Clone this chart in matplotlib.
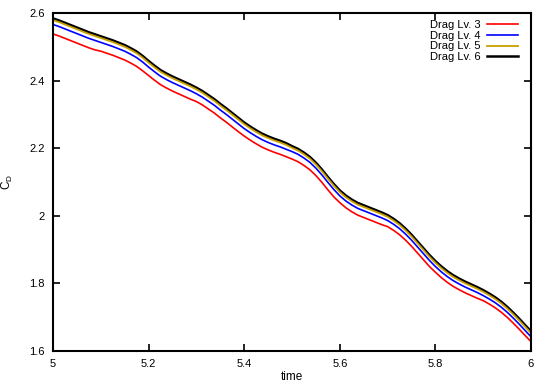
import matplotlib
matplotlib.use("Agg")
import matplotlib.pyplot as plt

# sample times (every 0.0125) and drag values
time = [5.0000, 5.0125, 5.0250, 5.0375, 5.0500, 5.0625, 5.0750, 5.0875,
        5.1000, 5.1125, 5.1250, 5.1375, 5.1500, 5.1625, 5.1750, 5.1875,
        5.2000, 5.2125, 5.2250, 5.2375, 5.2500, 5.2625, 5.2750, 5.2875,
        5.3000, 5.3125, 5.3250, 5.3375, 5.3500, 5.3625, 5.3750, 5.3875,
        5.4000, 5.4125, 5.4250, 5.4375, 5.4500, 5.4625, 5.4750, 5.4875,
        5.5000, 5.5125, 5.5250, 5.5375, 5.5500, 5.5625, 5.5750, 5.5875,
        5.6000, 5.6125, 5.6250, 5.6375, 5.6500, 5.6625, 5.6750, 5.6875,
        5.7000, 5.7125, 5.7250, 5.7375, 5.7500, 5.7625, 5.7750, 5.7875,
        5.8000, 5.8125, 5.8250, 5.8375, 5.8500, 5.8625, 5.8750, 5.8875,
        5.9000, 5.9125, 5.9250, 5.9375, 5.9500, 5.9625, 5.9750, 5.9875,
        6.0000]

drag_lv3 = [2.538, 2.532, 2.525, 2.518, 2.511, 2.504, 2.497, 2.491,
            2.487, 2.481, 2.475, 2.468, 2.461, 2.452, 2.442, 2.429,
            2.415, 2.401, 2.388, 2.378, 2.369, 2.361, 2.353, 2.345,
            2.338, 2.328, 2.316, 2.304, 2.290, 2.277, 2.263, 2.249,
            2.236, 2.224, 2.213, 2.203, 2.195, 2.188, 2.182, 2.175,
            2.168, 2.160, 2.149, 2.136, 2.119, 2.099, 2.077, 2.056,
            2.039, 2.024, 2.012, 2.002, 1.995, 1.988, 1.981, 1.974,
            1.968, 1.957, 1.944, 1.928, 1.910, 1.890, 1.870, 1.850,
            1.833, 1.817, 1.803, 1.791, 1.781, 1.772, 1.764, 1.756,
            1.749, 1.739, 1.728, 1.715, 1.700, 1.683, 1.665, 1.646,
            1.628]

drag_lv4 = [2.566, 2.560, 2.553, 2.546, 2.539, 2.532, 2.525, 2.519,
            2.513, 2.507, 2.501, 2.494, 2.487, 2.478, 2.468, 2.455,
            2.440, 2.426, 2.413, 2.403, 2.394, 2.386, 2.378, 2.370,
            2.361, 2.351, 2.339, 2.327, 2.313, 2.300, 2.286, 2.272,
            2.258, 2.246, 2.235, 2.225, 2.217, 2.210, 2.204, 2.197,
            2.190, 2.182, 2.171, 2.158, 2.141, 2.121, 2.099, 2.078,
            2.059, 2.044, 2.032, 2.022, 2.015, 2.008, 2.001, 1.994,
            1.986, 1.975, 1.962, 1.946, 1.928, 1.908, 1.888, 1.868,
            1.850, 1.834, 1.820, 1.808, 1.798, 1.789, 1.781, 1.773,
            1.764, 1.754, 1.743, 1.730, 1.715, 1.698, 1.680, 1.661,
            1.642]

drag_lv5 = [2.579, 2.573, 2.566, 2.559, 2.552, 2.545, 2.538, 2.532,
            2.526, 2.520, 2.514, 2.507, 2.500, 2.491, 2.481, 2.468,
            2.453, 2.439, 2.426, 2.416, 2.407, 2.399, 2.391, 2.383,
            2.374, 2.364, 2.352, 2.340, 2.326, 2.313, 2.299, 2.285,
            2.271, 2.259, 2.248, 2.238, 2.230, 2.223, 2.217, 2.210,
            2.201, 2.193, 2.182, 2.169, 2.152, 2.132, 2.110, 2.089,
            2.070, 2.055, 2.043, 2.033, 2.026, 2.019, 2.012, 2.005,
            1.997, 1.986, 1.973, 1.957, 1.939, 1.919, 1.899, 1.879,
            1.861, 1.845, 1.831, 1.819, 1.809, 1.800, 1.792, 1.784,
            1.775, 1.765, 1.754, 1.741, 1.726, 1.709, 1.691, 1.672,
            1.653]

drag_lv6 = [2.584, 2.578, 2.571, 2.564, 2.557, 2.550, 2.543, 2.537,
            2.531, 2.525, 2.519, 2.512, 2.505, 2.496, 2.486, 2.473,
            2.458, 2.444, 2.431, 2.421, 2.412, 2.404, 2.396, 2.388,
            2.379, 2.369, 2.357, 2.345, 2.331, 2.318, 2.304, 2.290,
            2.276, 2.264, 2.253, 2.243, 2.235, 2.228, 2.222, 2.215,
            2.206, 2.198, 2.187, 2.174, 2.157, 2.137, 2.115, 2.094,
            2.075, 2.060, 2.048, 2.038, 2.031, 2.024, 2.017, 2.010,
            2.002, 1.991, 1.978, 1.962, 1.944, 1.924, 1.904, 1.884,
            1.866, 1.850, 1.836, 1.824, 1.814, 1.805, 1.797, 1.789,
            1.780, 1.770, 1.759, 1.746, 1.731, 1.714, 1.696, 1.677,
            1.658]

x_ticks = [5, 5.2, 5.4, 5.6, 5.8, 6]
x_tick_labels = ["5", "5.2", "5.4", "5.6", "5.8", "6"]
y_ticks = [1.6, 1.8, 2.0, 2.2, 2.4, 2.6]
y_tick_labels = ["1.6", "1.8", "2", "2.2", "2.4", "2.6"]

plt.rcParams['font.family'] = ['Liberation Sans', 'DejaVu Sans']
plt.rcParams['mathtext.default'] = 'regular'

fig = plt.figure(figsize=(5.5, 3.85), dpi=100)
ax = fig.add_axes([53 / 550, 34 / 385, 478 / 550, 338 / 385])

ax.plot(time, drag_lv3, color='#ff0000', lw=1.2, label='Drag Lv. 3')
ax.plot(time, drag_lv4, color='#0000ff', lw=1.2, label='Drag Lv. 4')
ax.plot(time, drag_lv5, color='#c8a000', lw=1.3, label='Drag Lv. 5')
ax.plot(time, drag_lv6, color='#000000', lw=1.8, label='Drag Lv. 6', zorder=1.5)

ax.set_xlim(5, 6)
ax.set_ylim(1.6, 2.6)
ax.set_xticks(x_ticks)
ax.set_xticklabels(x_tick_labels)
ax.set_yticks(y_ticks)
ax.set_yticklabels(y_tick_labels)
ax.tick_params(direction='in', length=5, width=1.2, top=True, right=True,
               labelsize=8, pad=6)
for sp in ax.spines.values():
    sp.set_linewidth(1.5)

ax.set_xlabel('time', fontsize=8.5, labelpad=1)
ax.set_ylabel('$C_D$', fontsize=8.5, rotation=90, labelpad=10)

leg = ax.legend(loc='upper right', bbox_to_anchor=(0.973, 0.979),
                frameon=False, markerfirst=False, fontsize=8,
                handlelength=2.8, labelspacing=0.06, borderpad=0,
                borderaxespad=0, handletextpad=0.55)
for t in leg.get_texts():
    t.set_ha('right')

fig.savefig('out.png', dpi=100)
